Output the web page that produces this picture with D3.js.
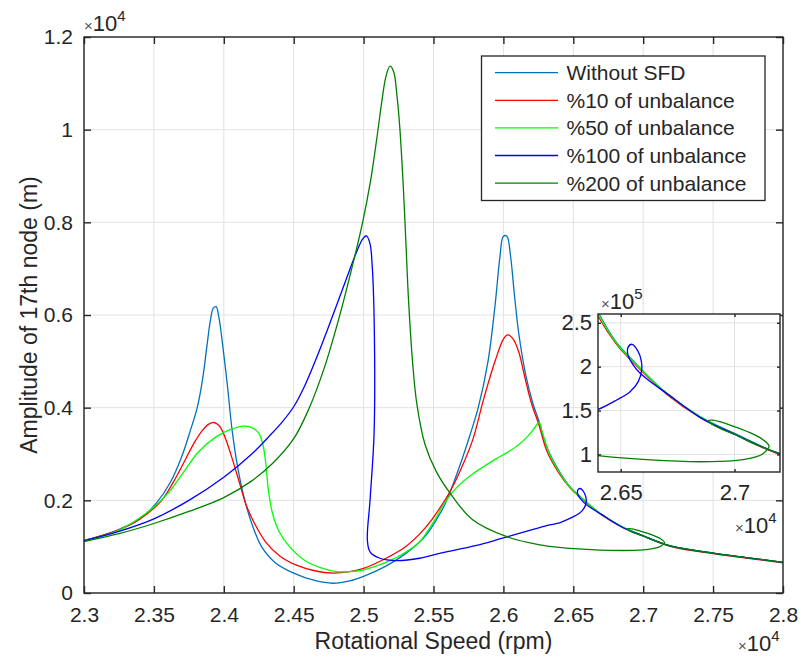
<!DOCTYPE html>
<html>
<head>
  <meta charset="utf-8">
  <title>Amplitude of 17th node</title>
  <script src="https://cdnjs.cloudflare.com/ajax/libs/d3/7.8.5/d3.min.js"></script>
  <style>
    body { margin: 0; background: #fff; }
    svg text { font-family: "Liberation Sans", Arial, sans-serif; fill: #262626; }
    .grid line { stroke: #e2e2e2; stroke-width: 1; }
    .frame { fill: none; stroke: #262626; stroke-width: 1.4; }
    .tk line { stroke: #262626; stroke-width: 1.4; }
    .tk path { display: none; }
    .curve { fill: none; stroke-width: 1.3; }
  </style>
</head>
<body>
<div id="chart"></div>
<script>
// ---- data (speed in 1e4 rpm, amplitude in axis units) ----
var speedTicks = [2.3, 2.35, 2.4, 2.45, 2.5, 2.55, 2.6, 2.65, 2.7, 2.75, 2.8];
var speedTickLabels = ["2.3", "2.35", "2.4", "2.45", "2.5", "2.55", "2.6", "2.65", "2.7", "2.75", "2.8"];
var ampTicks = [0, 0.2, 0.4, 0.6, 0.8, 1, 1.2];
var ampTickLabels = ["0", "0.2", "0.4", "0.6", "0.8", "1", "1.2"];
var insetSpeedTicks = [2.65, 2.7];
var insetSpeedLabels = ["2.65", "2.7"];
var insetAmpTicks = [0.1, 0.15, 0.2, 0.25];
var insetAmpLabels = ["1", "1.5", "2", "2.5"];

var seriesNames = ["Without SFD", "%10 of unbalance", "%50 of unbalance", "%100 of unbalance", "%200 of unbalance"];
var seriesColors = ["#0072BD", "#FF0000", "#00FF00", "#0000FF", "#008000"];

var withoutSFD = [[2.300,0.113],[2.324,0.136],[2.340,0.160],[2.352,0.195],[2.362,0.240],[2.370,0.295],[2.376,0.350],[2.381,0.400],[2.385,0.465],[2.388,0.535],[2.3905,0.590],[2.3925,0.615],[2.3945,0.618],[2.3965,0.595],[2.399,0.540],[2.4025,0.450],[2.406,0.350],[2.410,0.270],[2.415,0.200],[2.420,0.150],[2.427,0.100],[2.437,0.065],[2.450,0.043],[2.465,0.027],[2.478,0.021],[2.490,0.026],[2.500,0.036],[2.516,0.058],[2.530,0.085],[2.540,0.110],[2.546,0.130],[2.552,0.158],[2.558,0.190],[2.564,0.235],[2.570,0.285],[2.576,0.340],[2.582,0.400],[2.589,0.500],[2.594,0.620],[2.5975,0.725],[2.6,0.770],[2.6025,0.770],[2.605,0.730],[2.608,0.640],[2.611,0.560],[2.616,0.470],[2.621,0.410],[2.6255,0.370],[2.631,0.315],[2.6405,0.260],[2.648,0.228],[2.655,0.208],[2.670,0.170],[2.685,0.143],[2.700,0.124],[2.720,0.101],[2.750,0.086],[2.775,0.076],[2.800,0.066]];

var unbalance10 = [[2.300,0.113],[2.324,0.135],[2.340,0.160],[2.355,0.198],[2.364,0.240],[2.372,0.285],[2.379,0.325],[2.385,0.352],[2.389,0.364],[2.393,0.368],[2.397,0.360],[2.401,0.335],[2.406,0.290],[2.411,0.240],[2.416,0.190],[2.422,0.150],[2.430,0.110],[2.440,0.080],[2.452,0.060],[2.465,0.048],[2.478,0.043],[2.490,0.046],[2.500,0.053],[2.516,0.075],[2.530,0.100],[2.540,0.127],[2.5487,0.158],[2.556,0.190],[2.562,0.220],[2.570,0.270],[2.578,0.330],[2.586,0.420],[2.594,0.500],[2.600,0.548],[2.603,0.557],[2.607,0.548],[2.611,0.520],[2.615,0.470],[2.620,0.410],[2.6255,0.362],[2.631,0.307],[2.6395,0.260],[2.648,0.226],[2.655,0.206],[2.670,0.169],[2.685,0.142],[2.700,0.123],[2.720,0.100],[2.750,0.085],[2.775,0.075],[2.800,0.065]];

var unbalance50 = [[2.300,0.113],[2.324,0.134],[2.347,0.178],[2.360,0.215],[2.371,0.260],[2.382,0.305],[2.395,0.338],[2.405,0.353],[2.414,0.360],[2.420,0.357],[2.425,0.345],[2.428,0.320],[2.430,0.280],[2.432,0.220],[2.435,0.170],[2.440,0.130],[2.447,0.100],[2.458,0.070],[2.469,0.055],[2.481,0.046],[2.490,0.046],[2.500,0.050],[2.516,0.066],[2.530,0.088],[2.540,0.110],[2.551,0.158],[2.557,0.190],[2.563,0.215],[2.569,0.235],[2.578,0.257],[2.586,0.273],[2.595,0.290],[2.602,0.302],[2.610,0.318],[2.617,0.337],[2.622,0.355],[2.6255,0.368],[2.628,0.345],[2.633,0.300],[2.640,0.261],[2.648,0.227],[2.655,0.207],[2.670,0.170],[2.685,0.143],[2.700,0.123],[2.720,0.101],[2.750,0.086],[2.775,0.076],[2.800,0.066]];

var unbalance100 = [[2.300,0.113],[2.325,0.133],[2.350,0.160],[2.375,0.200],[2.400,0.250],[2.420,0.300],[2.433,0.340],[2.442,0.370],[2.450,0.402],[2.458,0.448],[2.466,0.505],[2.474,0.567],[2.482,0.632],[2.490,0.697],[2.4955,0.740],[2.4995,0.765],[2.5020,0.771],[2.5045,0.755],[2.5062,0.704],[2.5077,0.560],[2.5075,0.345],[2.5046,0.200],[2.5027,0.114],[2.5046,0.089],[2.5117,0.075],[2.5237,0.070],[2.540,0.075],[2.555,0.086],[2.580,0.102],[2.600,0.119],[2.620,0.136],[2.633,0.147],[2.6401,0.1514],[2.6482,0.162],[2.6541,0.1715],[2.6577,0.183],[2.6592,0.196],[2.6590,0.207],[2.6575,0.218],[2.6550,0.2255],[2.6532,0.2220],[2.6533,0.2120],[2.6552,0.2030],[2.6580,0.1940],[2.6625,0.1840],[2.6702,0.1696],[2.685,0.142],[2.700,0.123],[2.720,0.101],[2.750,0.086],[2.775,0.076],[2.800,0.066]];

var unbalance200 = [[2.300,0.111],[2.325,0.128],[2.350,0.150],[2.375,0.176],[2.400,0.206],[2.420,0.242],[2.435,0.280],[2.450,0.333],[2.4605,0.395],[2.472,0.487],[2.483,0.600],[2.4915,0.700],[2.4993,0.800],[2.505,0.890],[2.5094,0.980],[2.513,1.060],[2.516,1.115],[2.5189,1.137],[2.5215,1.125],[2.5238,1.075],[2.526,1.000],[2.5285,0.870],[2.5305,0.740],[2.532,0.640],[2.535,0.500],[2.538,0.410],[2.544,0.320],[2.552,0.262],[2.562,0.215],[2.578,0.158],[2.602,0.122],[2.626,0.104],[2.640,0.0986],[2.663,0.0937],[2.685,0.0917],[2.700,0.0930],[2.7068,0.0956],[2.7120,0.1000],[2.7142,0.1050],[2.7152,0.1096],[2.7127,0.1165],[2.7068,0.1248],[2.6980,0.1335],[2.6907,0.1390],[2.6885,0.1385],[2.6895,0.1355],[2.6950,0.1280],[2.700,0.123],[2.710,0.111],[2.720,0.101],[2.750,0.086],[2.775,0.076],[2.800,0.066]];

var allSeries = [withoutSFD, unbalance10, unbalance50, unbalance100, unbalance200];

// ---- layout ----
var W = 805, H = 661;
var margin = {top: 37, right: 22, bottom: 68, left: 84},
    width = W - margin.left - margin.right,
    height = H - margin.top - margin.bottom;

var svg = d3.select("#chart").append("svg")
    .attr("width", W)
    .attr("height", H);

var defs = svg.append("defs");

var g = svg.append("g")
    .attr("transform", "translate(" + margin.left + "," + margin.top + ")");

var x = d3.scaleLinear().domain([2.3, 2.8]).range([0, width]);
var y = d3.scaleLinear().domain([0, 1.2]).range([height, 0]);

defs.append("clipPath").attr("id", "mainClip")
  .append("rect").attr("width", width).attr("height", height);

// grid
g.append("g").attr("class", "grid")
  .selectAll("line.v").data(speedTicks).enter().append("line")
  .attr("x1", d => x(d)).attr("x2", d => x(d)).attr("y1", 0).attr("y2", height);
g.append("g").attr("class", "grid")
  .selectAll("line.h").data(ampTicks).enter().append("line")
  .attr("y1", d => y(d)).attr("y2", d => y(d)).attr("x1", 0).attr("x2", width);

// curves
var line = d3.line()
    .x(d => x(d[0]))
    .y(d => y(d[1]))
    .curve(d3.curveCatmullRom.alpha(0.5));

g.append("g").attr("clip-path", "url(#mainClip)")
  .selectAll("path").data(allSeries).enter().append("path")
  .attr("class", "curve")
  .attr("stroke", (d, i) => seriesColors[i])
  .attr("d", line);

// axes (MATLAB style, ticks inside, box)
g.append("g").attr("class", "tk")
  .attr("transform", "translate(0," + height + ")")
  .call(d3.axisBottom(x).tickValues(speedTicks).tickSize(-7).tickPadding(14)
        .tickFormat((d, i) => speedTickLabels[i]))
  .selectAll("text").style("font-size", "21px");
g.append("g").attr("class", "tk")
  .call(d3.axisTop(x).tickValues(speedTicks).tickSize(-7).tickFormat(""));
g.append("g").attr("class", "tk")
  .call(d3.axisLeft(y).tickValues(ampTicks).tickSize(-7).tickPadding(11)
        .tickFormat((d, i) => ampTickLabels[i]))
  .selectAll("text").style("font-size", "21px");
g.append("g").attr("class", "tk")
  .attr("transform", "translate(" + width + ",0)")
  .call(d3.axisRight(y).tickValues(ampTicks).tickSize(-7).tickFormat(""));
g.append("rect").attr("class", "frame").attr("width", width).attr("height", height);

// exponent labels
function expLabel(sel, px, py, power) {
  var t = sel.append("text").attr("x", px).attr("y", py);
  t.append("tspan").text("\u00d7").style("font-size", "15px").style("fill", "#555");
  t.append("tspan").text("10").style("font-size", "22px");
  t.append("tspan").text(power).attr("dy", -10).style("font-size", "15px");
}
expLabel(svg, margin.left, 31, "4");
expLabel(svg, 738, 651, "4");

// axis titles
svg.append("text")
  .attr("x", margin.left + width / 2).attr("y", 649)
  .attr("text-anchor", "middle").style("font-size", "23px")
  .text("Rotational Speed (rpm)");
svg.append("text")
  .attr("transform", "translate(37," + (margin.top + height / 2) + ") rotate(-90)")
  .attr("text-anchor", "middle").style("font-size", "23px")
  .text("Amplitude of 17th node (m)");

// legend
var legend = g.append("g").attr("transform", "translate(" + (481.5 - margin.left) + "," + (56 - margin.top) + ")");
legend.append("rect").attr("width", 283.5).attr("height", 144.5)
  .attr("fill", "#fff").attr("stroke", "#262626").attr("stroke-width", 1.3);
var rows = legend.selectAll("g.row").data(seriesNames).enter().append("g")
  .attr("transform", (d, i) => "translate(0," + (16.7 + i * 27.6) + ")");
rows.append("line").attr("x1", 13.5).attr("x2", 76.5)
  .attr("stroke", (d, i) => seriesColors[i]).attr("stroke-width", 1.3);
rows.append("text").attr("x", 85).attr("dy", "0.36em")
  .style("font-size", "21px").text(d => d);

// ---- inset ----
var ix0 = 598, iy0 = 314, iw = 182, ih = 158;
var ig = svg.append("g").attr("transform", "translate(" + ix0 + "," + iy0 + ")");
var xi = d3.scaleLinear().domain([2.64, 2.72]).range([0, iw]);
var yi = d3.scaleLinear().domain([0.08, 0.26]).range([ih, 0]);

defs.append("clipPath").attr("id", "insetClip")
  .append("rect").attr("width", iw).attr("height", ih);

ig.append("rect").attr("width", iw).attr("height", ih).attr("fill", "#fff");
ig.append("g").attr("class", "grid")
  .selectAll("line").data(insetSpeedTicks).enter().append("line")
  .attr("x1", d => xi(d)).attr("x2", d => xi(d)).attr("y1", 0).attr("y2", ih);
ig.append("g").attr("class", "grid")
  .selectAll("line").data(insetAmpTicks).enter().append("line")
  .attr("y1", d => yi(d)).attr("y2", d => yi(d)).attr("x1", 0).attr("x2", iw);

var lineInset = d3.line()
    .x(d => xi(d[0]))
    .y(d => yi(d[1]))
    .curve(d3.curveCatmullRom.alpha(0.5));

ig.append("g").attr("clip-path", "url(#insetClip)")
  .selectAll("path").data(allSeries).enter().append("path")
  .attr("class", "curve")
  .attr("stroke", (d, i) => seriesColors[i])
  .attr("d", lineInset);

ig.append("g").attr("class", "tk")
  .attr("transform", "translate(0," + ih + ")")
  .call(d3.axisBottom(xi).tickValues(insetSpeedTicks).tickSize(-3).tickPadding(12)
        .tickFormat((d, i) => insetSpeedLabels[i]))
  .selectAll("text").style("font-size", "22px");
ig.append("g").attr("class", "tk")
  .call(d3.axisTop(xi).tickValues(insetSpeedTicks).tickSize(-3).tickFormat(""));
ig.append("g").attr("class", "tk")
  .call(d3.axisLeft(yi).tickValues(insetAmpTicks).tickSize(-3).tickPadding(6)
        .tickFormat((d, i) => insetAmpLabels[i]))
  .selectAll("text").style("font-size", "22px");
ig.append("g").attr("class", "tk")
  .attr("transform", "translate(" + iw + ",0)")
  .call(d3.axisRight(yi).tickValues(insetAmpTicks).tickSize(-3).tickFormat(""));
ig.append("rect").attr("class", "frame").attr("width", iw).attr("height", ih);

expLabel(svg, 601, 309, "5");
expLabel(svg, 735, 533, "4");
</script>
</body>
</html>
